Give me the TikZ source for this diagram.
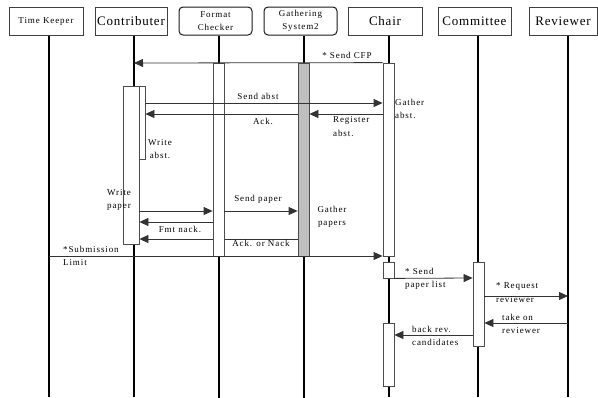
\documentclass[tikz,border=0pt]{standalone}
\usepackage{fontspec}
\setmainfont{Liberation Serif}
\newfontfamily\lblfont[LetterSpace=10]{Liberation Serif}
\newfontfamily\hdrfont[LetterSpace=6]{Liberation Serif}
\usetikzlibrary{calc,positioning,arrows.meta}
\pgfdeclarelayer{background}
\pgfsetlayers{background,main}

\tikzset{
  hdr/.style={draw=black!75, line width=0.8pt, fill=white, minimum height=28pt, inner sep=0pt, align=center, font=\hdrfont\fontsize{13}{14}\selectfont},
  hdrsmall/.style={hdr, font=\lblfont\fontsize{9}{13}\selectfont},
  hdrround/.style={hdrsmall, draw=black!90, line width=1pt, rounded corners=4pt},
  life/.style={line width=1.5pt},
  act/.style={draw=black!70, line width=0.8pt, fill=white, minimum width=11pt, inner sep=0pt},
  bar/.style={act, fill=black!25},
  msg/.style={draw=black!80, line width=0.8pt, -{Triangle[length=9pt,width=8pt]}},
  lbl/.style={inner sep=0pt, align=left, font=\lblfont\fontsize{9}{13.5}\selectfont},
}

\begin{document}
\begin{tikzpicture}[x=1pt,y=-1pt]
    \useasboundingbox (0,0) rectangle (598,397);

        % Draw the header boxes
        \node[hdrsmall, minimum width=74pt] (tk) at (46,21) {Time Keeper};
        \node[hdr, minimum width=72pt] (contrib) at (131,21) {Contributer};
        \node[hdrround, minimum width=73pt] (fmt) at (215.5,21) {Format\\Checker};
        \node[hdrround, minimum width=73pt] (gath) at (300.5,21) {Gathering\\System2};
        \node[hdr, minimum width=74pt] (chair) at (385,21) {Chair};
        \node[hdr, minimum width=73pt] (comm) at (474.5,21) {Committee};
        \node[hdr, minimum width=68pt] (rev) at (563,21) {Reviewer};

        % Draw the activation boxes
        \node[act, minimum width=16pt, minimum height=158pt] (cnA1) at (131,165) {};
        \node[act, minimum width=6pt, minimum height=73pt] (cnA2) at (142,122.5) {};
        \node[act, minimum height=193pt] (fcA) at (218.5,159.5) {};
        \node[bar, minimum height=193pt] (gsA) at (303.5,159.5) {};
        \node[act, minimum height=193pt] (chA1) at (388.5,159.5) {};
        \node[act, minimum height=16pt] (chA2) at (388.5,270) {};
        \node[act, minimum height=63pt] (chA3) at (388.5,354.5) {};
        \node[act, minimum height=84pt] (cmA) at (478.5,304) {};

        % Draw the lifelines behind the boxes
        \begin{pgfonlayer}{background}
            \foreach \n/\dx in {tk/3, contrib/3, fmt/3.5, gath/3.5, chair/4, comm/3.5, rev/5} {
                \coordinate (\n-l) at ([xshift=\dx pt]\n.south);
                \draw[life] (\n-l) -- ++(0,362);
            }
            % this one runs under the format checker
            \draw[msg] (gsA.west |- 0,239) -- (cnA1.east |- 0,239);
        \end{pgfonlayer}

        % Draw the messages
        \draw[msg] (chA1.north west) -- (contrib-l |- 0,63);
        \draw[msg] (cnA2.east |- 0,103) -- (chA1.west |- 0,103);
        \draw[msg] (gsA.west |- 0,114) -- (cnA2.east |- 0,114);
        \draw[msg] (chA1.west |- 0,114) -- (gsA.east |- 0,114);
        \draw[msg] (cnA1.east |- 0,211) -- (fcA.west |- 0,211);
        \draw[msg] (fcA.east |- 0,211) -- (gsA.west |- 0,211);
        \draw[msg] (fcA.west |- 0,222) -- (cnA1.east |- 0,222);
        \draw[msg] (tk-l |- 0,256) -- (chA1.west |- 0,256);
        \draw[msg] (chA2.south east) -- (cmA.west |- 0,278);
        \draw[msg] (cmA.east |- 0,296) -- (rev-l |- 0,296);
        \draw[msg] (rev-l |- 0,323) -- (cmA.east |- 0,323);
        \draw[msg] (cmA.west |- 0,335) -- (chA3.east |- 0,335);

        % Draw the labels
        \node[lbl] (cfpTxt) at (347,55) {* Send CFP};
        \node[lbl] (sendAbstTxt) at (258,96) {Send abst};
        \node[lbl] (ackTxt) at (263,121) {Ack.};
        \node[lbl, anchor=west] (regTxt) at (333,126.5) {Register\\abst.};
        \node[lbl, anchor=west] (gathAbstTxt) at (395,109) {Gather\\abst.};
        \node[lbl, align=center] (writeAbstTxt) at (160,149) {Write\\abst.};
        \node[lbl, anchor=west] (writePaperTxt) at (107,200) {Write\\paper};
        \node[lbl] (sendPaperTxt) at (258,199) {Send paper};
        \node[lbl] (nackTxt) at (180,229) {Fmt nack.};
        \node[lbl] (ackNackTxt) at (261,243.5) {Ack. or Nack};
        \node[lbl, align=center] (gathPaperTxt) at (332,217) {Gather\\papers};
        \node[lbl, anchor=west] (limitTxt) at (63,256) {*Submission\\Limit};
        \node[lbl, anchor=west] (listTxt) at (405,279) {* Send\\paper list};
        \node[lbl, anchor=west] (reqTxt) at (496,292.5) {* Request\\reviewer};
        \node[lbl, anchor=west] (takeTxt) at (502,324) {take on\\reviewer};
        \node[lbl, anchor=west] (backTxt) at (412,336) {back rev.\\candidates};

\end{tikzpicture}
\end{document}
